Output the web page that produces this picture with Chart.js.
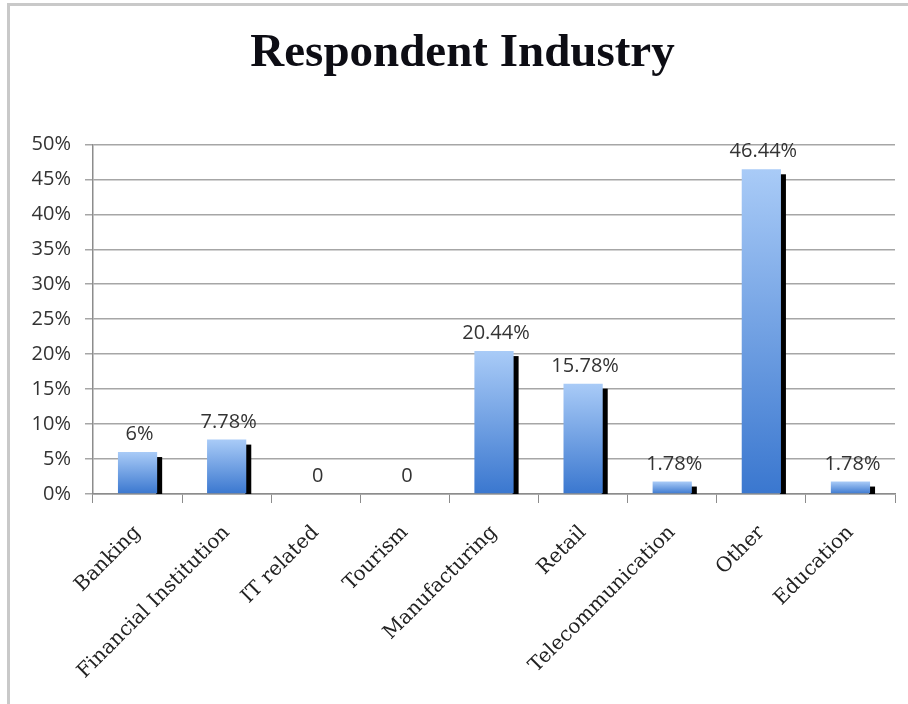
<!DOCTYPE html>
<html>
<head>
<meta charset="utf-8">
<title>Respondent Industry</title>
<script src="https://cdn.jsdelivr.net/npm/chart.js@4.4.1/dist/chart.umd.min.js"></script>
<style>
  html, body { margin: 0; padding: 0; background: #fff; }
  #wrap { position: relative; width: 908px; height: 704px; overflow: hidden; }
  #frame {
    position: absolute; left: 7px; top: 3px; right: 0; bottom: 0;
    border-left: 3px solid #c9c9c9; border-top: 3px solid #c9c9c9;
    pointer-events: none;
  }
  canvas { position: absolute; left: 0; top: 0; }
</style>
</head>
<body>
<div id="wrap">
  <canvas id="industryChart" width="908" height="704"></canvas>
  <div id="frame"></div>
</div>
<script>
// Survey answers: share of respondents per industry (percent)
const industries = ['Banking', 'Financial Institution', 'IT related', 'Tourism', 'Manufacturing',
                    'Retail', 'Telecommunication', 'Other', 'Education'];
const shares = [6, 7.78, 0, 0, 20.44, 15.78, 1.78, 46.44, 1.78];
const yMin = 0;
const yMax = 50;
const yStep = 5;

const SANS = '"Open Sans", "Noto Sans", sans-serif';
const SERIF = '"DejaVu Serif", "Liberation Serif", serif';
const TITLE_SERIF = '"Liberation Serif", "DejaVu Serif", serif';

// Label text shown above each bar
function shareText(v) {
  return v === 0 ? '0' : v + '%';
}

// Top-to-bottom blue gradient, built per bar from its own height
function barGradient(context) {
  const chart = context.chart;
  const y = chart.scales.y;
  const fallback = '#6c9de2';
  if (!y || context.type !== 'data') return fallback;
  const top = y.getPixelForValue(shares[context.dataIndex]);
  const bottom = y.getPixelForValue(0);
  if (!isFinite(top) || !isFinite(bottom) || bottom - top < 1) return fallback;
  const g = chart.ctx.createLinearGradient(0, top, 0, bottom);
  g.addColorStop(0, '#a9cbf7');
  g.addColorStop(1, '#3a77cf');
  return g;
}

// Black drop shadow along the right edge of each bar
const barShadow = {
  id: 'barShadow',
  beforeDatasetsDraw(chart) {
    const ctx = chart.ctx;
    const base = chart.scales.y.getPixelForValue(0);
    ctx.save();
    ctx.fillStyle = '#000';
    chart.getDatasetMeta(0).data.forEach((bar, i) => {
      if (shares[i] <= 0) return;
      const top = bar.y + 5;
      if (base - top <= 0) return;
      ctx.fillRect(bar.x + bar.width / 2 - 1, top, 6, base - top);
    });
    ctx.restore();
  }
};

// Value labels above the bars
const valueLabels = {
  id: 'valueLabels',
  afterDatasetsDraw(chart) {
    const ctx = chart.ctx;
    ctx.save();
    ctx.font = '20px ' + SANS;
    ctx.fillStyle = '#333';
    ctx.textAlign = 'center';
    ctx.textBaseline = 'alphabetic';
    chart.getDatasetMeta(0).data.forEach((bar, i) => {
      ctx.fillText(shareText(shares[i]), bar.x + 2, bar.y - 12);
    });
    ctx.restore();
  }
};

const ctx = document.getElementById('industryChart').getContext('2d');
new Chart(ctx, {
  type: 'bar',
  data: {
    labels: industries,
    datasets: [{
      data: shares,
      backgroundColor: barGradient,
      borderWidth: 0,
      categoryPercentage: 1,
      barPercentage: 0.44
    }]
  },
  options: {
    responsive: false,
    devicePixelRatio: 1,
    animation: false,
    // extra left padding shifts the title centre; the y axis box is narrowed to match
    layout: { padding: { left: 30, right: 13, top: 0, bottom: 0 } },
    plugins: {
      legend: { display: false },
      tooltip: { enabled: false },
      title: {
        display: true,
        text: 'Respondent Industry',
        color: '#0d0d14',
        font: { family: TITLE_SERIF, size: 47, weight: 'bold', lineHeight: 1.2 },
        padding: { top: 26, bottom: 62 }
      }
    },
    scales: {
      x: {
        grid: { drawOnChartArea: false, drawTicks: true, tickLength: 9, color: '#8c8c8c', offset: true },
        border: { color: '#8c8c8c', width: 1.5 },
        ticks: {
          color: '#222',
          font: { family: SERIF, size: 20 },
          minRotation: 45,
          maxRotation: 45,
          autoSkip: false,
          padding: 18
        },
        afterFit(scale) { scale.height = 210; }
      },
      y: {
        min: yMin,
        max: yMax,
        grid: { color: '#a6a6a6', lineWidth: 1.5, tickLength: 8 },
        border: { color: '#8c8c8c', width: 1.5 },
        ticks: {
          stepSize: yStep,
          color: '#333',
          font: { family: SANS, size: 20 },
          padding: 14,
          callback: v => v + '%'
        },
        afterFit(scale) { scale.width = 63; }
      }
    }
  },
  plugins: [barShadow, valueLabels]
});
</script>
</body>
</html>
